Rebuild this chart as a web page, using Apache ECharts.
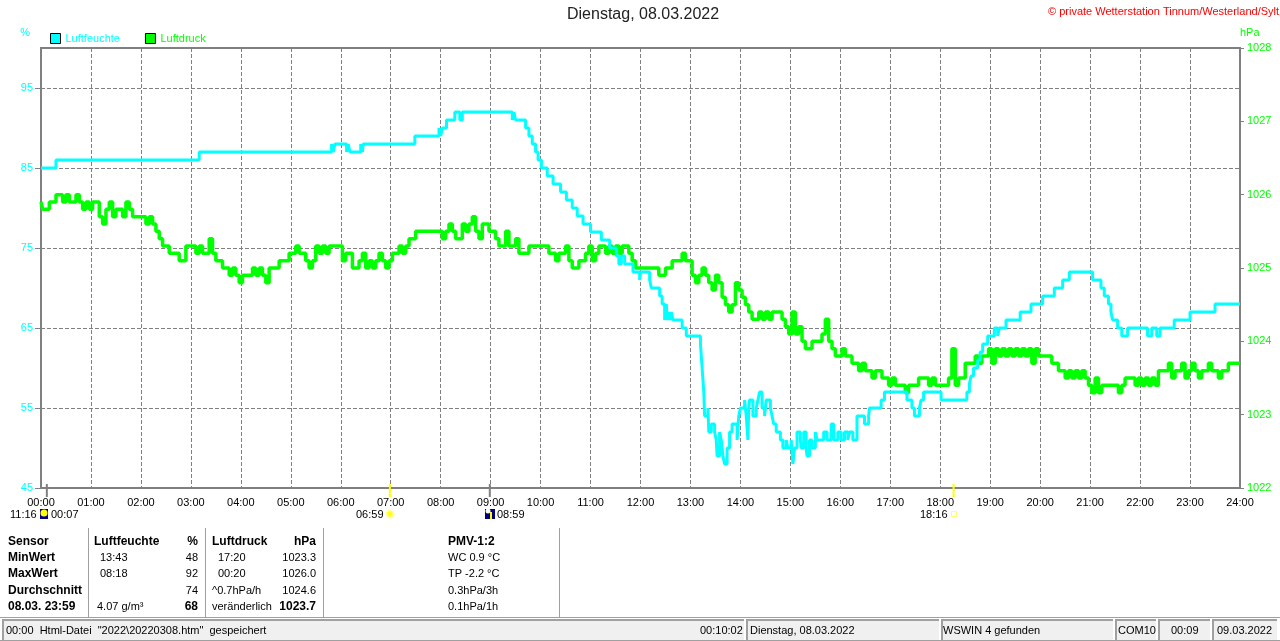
<!DOCTYPE html>
<html><head><meta charset="utf-8">
<style>html,body{margin:0;padding:0;background:#fff}#c{width:1280px;height:641px}</style>
<script src="https://cdn.jsdelivr.net/npm/echarts@6/dist/echarts.min.js"></script>
</head><body><div id="c"></div>
<script>
const hourLabels=["00:00","01:00","02:00","03:00","04:00","05:00","06:00","07:00","08:00","09:00","10:00","11:00","12:00","13:00","14:00","15:00","16:00","17:00","18:00","19:00","20:00","21:00","22:00","23:00","24:00"];
// Luftfeuchte: [minute of day, %], value holds until next point
const humidityChanges=[[0,85],[18,86],[190,87],[349,88],[351,87],[353,88],[367,87],[369,88],[371,87],[384,88],[386,87],[387,88],[449,89],[478,90],[480,89],[482,90],[487,91],[497,92],[503,91],[506,92],[566,91],[568,92],[570,91],[582,90],[586,89],[590,88],[594,87],[597,86],[601,85],[608,84],[615,83],[624,82],[631,81],[638,80],[644,79],[651,78],[660,77],[673,76],[683,75],[691,74],[694,73],[697,74],[701,73],[711,72],[719,71],[720,72],[731,71],[733,70],[743,69],[746,68],[749,66],[751,68],[752,66],[754,67],[756,66],[757,67],[759,66],[770,65],[775,64],[792,63],[794,60],[796,57],[797,54],[801,55],[802,52],[805,53],[809,52],[811,51],[812,49],[815,52],[817,51],[819,49],[821,48],[824,50],[827,52],[830,53],[836,51],[838,54],[840,55],[845,56],[847,54],[849,51],[850,55],[851,56],[855,54],[859,55],[861,56],[863,57],[866,55],[869,54],[871,56],[876,55],[878,54],[880,53],[883,52],[888,51],[891,50],[895,51],[897,50],[901,51],[903,48],[905,50],[908,52],[912,51],[913,50],[916,52],[919,50],[920,49],[923,51],[926,50],[930,52],[932,51],[940,52],[944,51],[949,53],[952,51],[957,52],[961,51],[965,52],[969,51],[971,52],[975,51],[980,54],[989,53],[994,54],[995,55],[1009,56],[1013,57],[1040,56],[1046,55],[1049,54],[1055,55],[1057,56],[1060,57],[1081,56],[1112,57],[1115,58],[1117,59],[1120,60],[1125,61],[1128,62],[1131,63],[1137,64],[1145,65],[1149,64],[1151,65],[1159,66],[1176,67],[1189,68],[1203,69],[1217,70],[1227,71],[1235,72],[1263,71],[1273,70],[1277,69],[1282,68],[1285,67],[1287,66],[1293,65],[1298,64],[1305,65],[1329,64],[1334,65],[1340,64],[1344,65],[1361,66],[1380,67],[1410,68],[1440,68]];
// Luftdruck: one reading every 4 minutes, hPa
const pressureValues=[
1025.9,1025.8,1025.8,1025.9,1025.9,1026.0,1026.0,1025.9,1026.0,1025.9,1025.9,1026.0,1025.9,1025.8,1025.9,
1025.8,1025.9,1025.9,1025.7,1025.6,1025.8,1025.9,1025.7,1025.8,1025.8,1025.7,1025.9,1025.8,1025.7,1025.7,
1025.7,1025.7,1025.6,1025.7,1025.6,1025.5,1025.4,1025.3,1025.3,1025.2,1025.2,1025.2,1025.1,1025.1,1025.3,
1025.3,1025.3,1025.2,1025.3,1025.2,1025.2,1025.4,1025.2,1025.1,1025.1,1025.0,1025.0,1024.9,1025.0,1024.9,
1024.8,1024.9,1024.9,1024.9,1025.0,1024.9,1025.0,1024.9,1024.8,1025.0,1025.0,1025.0,1025.1,1025.1,1025.1,
1025.2,1025.2,1025.3,1025.2,1025.2,1025.1,1025.0,1025.1,1025.3,1025.2,1025.3,1025.2,1025.3,1025.3,1025.3,
1025.3,1025.1,1025.2,1025.2,1025.0,1025.0,1025.1,1025.2,1025.0,1025.1,1025.0,1025.1,1025.2,1025.1,1025.0,
1025.1,1025.2,1025.2,1025.3,1025.2,1025.3,1025.4,1025.4,1025.5,1025.5,1025.5,1025.5,1025.5,1025.5,1025.5,
1025.5,1025.4,1025.5,1025.6,1025.5,1025.4,1025.4,1025.6,1025.5,1025.6,1025.7,1025.5,1025.4,1025.6,1025.6,
1025.5,1025.5,1025.4,1025.3,1025.3,1025.5,1025.3,1025.3,1025.4,1025.2,1025.2,1025.2,1025.3,1025.3,1025.3,
1025.3,1025.3,1025.3,1025.2,1025.2,1025.1,1025.2,1025.2,1025.3,1025.1,1025.0,1025.0,1025.1,1025.1,1025.2,
1025.3,1025.1,1025.2,1025.3,1025.3,1025.2,1025.3,1025.2,1025.3,1025.2,1025.3,1025.3,1025.2,1025.1,1025.0,
1025.0,1025.0,1025.0,1025.0,1025.0,1025.0,1024.9,1024.9,1025.0,1025.0,1025.1,1025.1,1025.1,1025.2,1025.1,
1025.1,1024.9,1024.8,1024.9,1025.0,1024.9,1024.8,1024.7,1024.9,1024.8,1024.6,1024.5,1024.4,1024.5,1024.8,
1024.7,1024.6,1024.5,1024.4,1024.3,1024.3,1024.4,1024.3,1024.4,1024.3,1024.4,1024.4,1024.4,1024.3,1024.2,
1024.1,1024.4,1024.1,1024.2,1024.0,1023.9,1023.9,1024.0,1024.0,1024.0,1024.1,1024.3,1024.0,1023.9,1023.8,
1023.8,1023.9,1023.8,1023.8,1023.7,1023.7,1023.6,1023.7,1023.6,1023.6,1023.5,1023.6,1023.6,1023.5,1023.5,
1023.4,1023.5,1023.4,1023.4,1023.4,1023.3,1023.4,1023.4,1023.4,1023.5,1023.5,1023.5,1023.4,1023.5,1023.4,
1023.4,1023.4,1023.4,1023.5,1023.9,1023.4,1023.5,1023.5,1023.7,1023.7,1023.7,1023.8,1023.7,1023.8,1023.8,
1023.9,1023.7,1023.9,1023.8,1023.9,1023.8,1023.9,1023.8,1023.9,1023.8,1023.9,1023.8,1023.9,1023.7,1023.9,
1023.8,1023.8,1023.8,1023.8,1023.7,1023.7,1023.6,1023.6,1023.5,1023.6,1023.5,1023.6,1023.5,1023.6,1023.5,
1023.4,1023.3,1023.5,1023.3,1023.4,1023.4,1023.4,1023.4,1023.4,1023.3,1023.4,1023.5,1023.5,1023.5,1023.4,
1023.5,1023.4,1023.5,1023.4,1023.5,1023.4,1023.6,1023.6,1023.6,1023.7,1023.5,1023.6,1023.6,1023.7,1023.5,
1023.6,1023.7,1023.6,1023.5,1023.6,1023.6,1023.7,1023.6,1023.6,1023.5,1023.6,1023.6,1023.7,1023.7,1023.7,
1023.7];
const eventMinutes=[7,419,539,1096];
const eventColors=["#808080","#ffff00","#808080","#ffff00"];
const tableCols=[
 {x:8,align:"left",rows:[["Sensor",1],["MinWert",1],["MaxWert",1],["Durchschnitt",1],["08.03. 23:59",1]]},
 {x:94,align:"left",rows:[["Luftfeuchte",1]]},
 {x:100,align:"left",rows:[null,["13:43"],["08:18"]]},
 {x:97,align:"left",rows:[null,null,null,null,["4.07 g/m³"]]},
 {x:198,align:"right",rows:[["%",1],["48"],["92"],["74"],["68",1]]},
 {x:212,align:"left",rows:[["Luftdruck",1],null,null,["^0.7hPa/h"],["veränderlich"]]},
 {x:218,align:"left",rows:[null,["17:20"],["00:20"]]},
 {x:316,align:"right",rows:[["hPa",1],["1023.3"],["1026.0"],["1024.6"],["1023.7",1]]},
 {x:448,align:"left",rows:[["PMV-1:2",1],["WC 0.9 °C"],["TP -2.2 °C"],["0.3hPa/3h"],["0.1hPa/1h"]]}
];
const rowYs=[542,558,574,591,607];
const separators=[88,205,323,559];
const statusPanels=[[2,742],[746,193],[941,172],[1115,41],[1158,52],[1212,65]];
const statusTexts=[[6,'00:00  Html-Datei  "2022\\20220308.htm"  gespeichert'],[700,"00:10:02"],[750,"Dienstag, 08.03.2022"],[943,"WSWIN 4 gefunden"],[1118,"COM10"],[1171,"00:09"],[1217,"09.03.2022"]];
const eventTexts=[[10,"11:16"],[51,"00:07"],[356,"06:59"],[497,"08:59"],[920,"18:16"]];

const F="'Liberation Sans',Arial,sans-serif";
const CY="#00ffff",GR="#00ff00",AX="#808080";
const gfx=[];
const txt=(x,y,t,o={})=>gfx.push({type:"text",x,y,silent:true,z:10,style:Object.assign({text:t,font:"11px "+F,fill:"#000",textAlign:"left",textVerticalAlign:"middle"},o)});
const rect=(x,y,w,h,fill)=>gfx.push({type:"rect",silent:true,z:5,shape:{x,y,width:w,height:h},style:{fill}});
tableCols.forEach(c=>c.rows.forEach((r,i)=>{if(r)txt(c.x,rowYs[i],r[0],{textAlign:c.align,font:(r[1]?"bold 12px ":"11px ")+F});}));
separators.forEach(x=>rect(x,528,1,89,"#a0a0a0"));
rect(0,617,1280,1,"#a0a0a0");
statusPanels.forEach(p=>{rect(p[0],619,p[1],21,"#f0f0f0");rect(p[0],619,p[1],2,"#a0a0a0");rect(p[0],619,2,21,"#a0a0a0");});
rect(0,640,1280,1,"#a0a0a0");
statusTexts.forEach(s=>txt(s[0],631,s[1]));
eventTexts.forEach(s=>txt(s[0],515,s[1]));
// moon rise/set + sun icons
rect(40,509,8,10,"#000080");
gfx.push({type:"circle",silent:true,z:6,shape:{cx:44,cy:513,r:3.5},style:{fill:"#ffff00"}});
gfx.push({type:"circle",silent:true,z:6,shape:{cx:390,cy:514,r:3},style:{fill:"#ffff00",stroke:"#ffff80",lineWidth:3,lineDash:[1,1]}});
rect(485,509,10,10,"#000080");
gfx.push({type:"circle",silent:true,z:6,shape:{cx:488,cy:511,r:2.5},style:{fill:"#ffffff"}});
rect(490,512,2,7,"#ffff00");
gfx.push({type:"rect",silent:true,z:6,shape:{x:951.5,y:511.5,width:5,height:5},style:{fill:"#fff",stroke:"#ffff66",lineWidth:1}});
txt(1048,12,"© private Wetterstation Tinnum/Westerland/Sylt",{fill:"#ff0000"});

const chart=echarts.init(document.getElementById("c"),null,{renderer:"canvas"});
chart.setOption({
 animation:false,backgroundColor:"#fff",
 title:{text:"Dienstag, 08.03.2022",left:567,top:7,padding:0,textStyle:{fontFamily:F,fontSize:16,fontWeight:"normal",color:"#222"}},
 legend:{left:50,top:33,padding:0,itemWidth:10,itemHeight:10,itemGap:25,icon:"rect",selectedMode:false,textStyle:{fontFamily:F,fontSize:11},
  data:[{name:"Luftfeuchte",itemStyle:{color:CY,borderColor:"#000",borderWidth:1},textStyle:{color:CY}},{name:"Luftdruck",itemStyle:{color:GR,borderColor:"#000",borderWidth:1},textStyle:{color:GR}}]},
 grid:{left:41,right:40,top:48,bottom:153,show:true,borderColor:AX,borderWidth:2,backgroundColor:"transparent"},
 xAxis:{type:"value",min:0,max:1440,interval:60,axisLine:{show:false},axisTick:{show:false},
  axisLabel:{margin:9,fontFamily:F,fontSize:11,color:"#000",hideOverlap:false,formatter:v=>hourLabels[v/60]||""},
  splitLine:{show:true,lineStyle:{color:AX,type:[4,2],width:1}}},
 yAxis:[
  {type:"value",min:45,max:100,interval:10,name:"%",nameLocation:"end",nameGap:10,nameTextStyle:{color:CY,fontFamily:F,fontSize:11,align:"right",padding:[0,11,0,0]},
   axisLine:{show:false},axisTick:{show:true,length:6,lineStyle:{color:AX}},axisLabel:{margin:8,color:CY,fontFamily:F,fontSize:11,showMaxLabel:false,formatter:v=>String(v)},
   splitLine:{show:true,lineStyle:{color:AX,type:[4,2],width:1}}},
  {type:"value",min:1022,max:1028,interval:1,position:"right",name:"hPa",nameLocation:"end",nameGap:10,nameTextStyle:{color:GR,fontFamily:F,fontSize:11,align:"left"},
   axisLine:{show:false},axisTick:{show:true,length:4,lineStyle:{color:AX}},axisLabel:{margin:7,color:GR,fontFamily:F,fontSize:11,formatter:v=>String(v)},splitLine:{show:false}}
 ],
 series:[
  {name:"Luftdruck",type:"line",yAxisIndex:1,showSymbol:false,step:"middle",z:3,lineStyle:{color:GR,width:3.5,join:"bevel",cap:"butt"},itemStyle:{color:GR},data:pressureValues.map((v,i)=>[i*4,v])},
  {name:"Luftfeuchte",type:"line",yAxisIndex:0,showSymbol:false,step:"end",z:4,lineStyle:{color:CY,width:3,join:"bevel"},itemStyle:{color:CY},data:humidityChanges},
  {name:"Ereignis",type:"custom",yAxisIndex:0,z:5,clip:false,silent:true,legendHoverLink:false,
   renderItem:(p,api)=>{const c=api.coord([api.value(0),45]);return {type:"line",shape:{x1:c[0],y1:c[1]-4,x2:c[0],y2:c[1]+9},style:{stroke:eventColors[p.dataIndex],lineWidth:2}};},
   data:eventMinutes.map(m=>[m,45])}
 ],
 graphic:gfx
});
</script></body></html>
